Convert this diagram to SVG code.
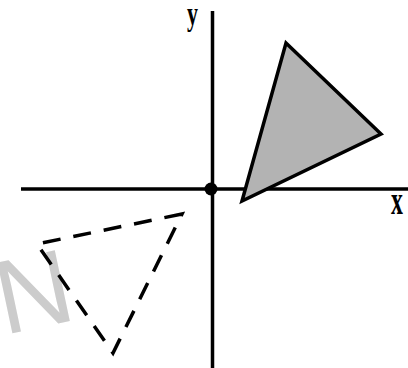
<svg xmlns="http://www.w3.org/2000/svg" width="408" height="368" viewBox="0 0 408 368">
<style>
.axis{stroke:#000;stroke-width:3.5;fill:none}
.lbl{font-family:"Liberation Serif",serif;font-weight:bold;fill:#000}
.solid{fill:#b3b3b3;stroke:#000;stroke-width:3.5;stroke-linejoin:miter}
.dashed{fill:none;stroke:#000;stroke-width:3.5;stroke-dasharray:18 13}
</style>
<rect width="408" height="368" fill="#fff"/>
<text transform="translate(4,335) rotate(-12)" font-family="Liberation Sans,sans-serif" font-size="105" fill="#cccccc">N</text>
<g id="connectors">
<line class="axis" x1="21" y1="189" x2="408" y2="189"/>
<line class="axis" x1="212.5" y1="11" x2="212.5" y2="368"/>
</g>
<g id="origin"><circle cx="211" cy="189" r="6.5" fill="#000"/></g>
<g id="label-y"><text class="lbl" transform="translate(187,25) scale(1,1.5)" font-size="22">y</text></g>
<g id="label-x"><text class="lbl" transform="translate(391,214) scale(0.85,1.45)" font-size="28">x</text></g>
<g id="triangle-solid"><polygon class="solid" points="286,43 381,134 242,201"/></g>
<g id="triangle-dashed"><polygon class="dashed" points="182,214 37,244 113,353"/></g>
</svg>
